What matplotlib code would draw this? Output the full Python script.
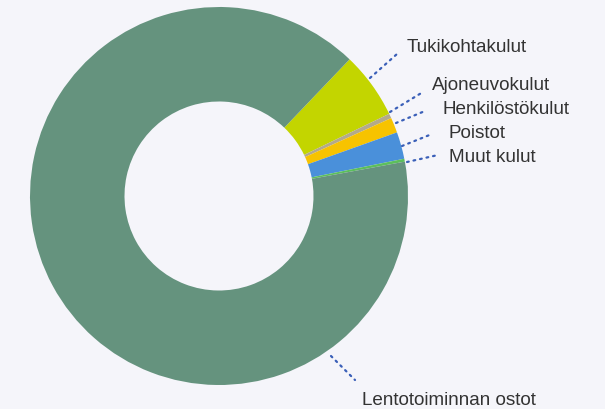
import matplotlib
matplotlib.use("Agg")
import matplotlib.pyplot as plt
import numpy as np

categories = ["Tukikohtakulut", "Ajoneuvokulut", "Henkilöstökulut", "Poistot", "Muut kulut", "Lentotoiminnan ostot"]
values = [5.7, 0.4, 1.3, 2.3, 0.25, 90.05]
colors = ["#c3d500", "#b3aa8c", "#f7c300", "#4a90da", "#5cbf5c", "#65937e"]

BG = "#f5f5fa"
W, H = 605, 410
fig = plt.figure(figsize=(W / 100, H / 100), dpi=100, facecolor=BG)

# donut axes: center (219,197) px, radius 189 px
cx, cy, r = 219, 197, 189
ax = fig.add_axes([(cx - r) / W, (H - cy - r) / H, 2 * r / W, 2 * r / H])
ax.set_facecolor(BG)
ax.pie(values, colors=colors, startangle=46.3, counterclock=False,
       radius=1.0, wedgeprops=dict(width=0.5, linewidth=0))
ax.set_xlim(-1, 1)
ax.set_ylim(-1, 1)
ax.set_axis_off()

# overlay in pixel coordinates for labels & leaders
ov = fig.add_axes([0, 0, 1, 1], facecolor="none")
ov.set_xlim(0, W)
ov.set_ylim(H, 0)
ov.set_axis_off()

labels_layout = [
    # (text_x, text_y_center, line_start, line_end)
    (407, 47, (370, 79), (397, 55)),
    (432, 85, (390, 113), (423, 93)),
    (442, 110, (396, 124), (425, 112)),
    (448, 134, (402, 147), (432, 135)),
    (449, 158, (407, 163), (438, 156)),
    (362, 401, (331, 357), (355, 381)),
]

for name, (tx, ty, p0, p1) in zip(categories, labels_layout):
    ov.plot([p0[0], p1[0]], [p0[1], p1[1]], color="#3a5fb8", lw=1.6,
            linestyle=(0, (0.8, 2.2)), dash_capstyle="round")
    ov.text(tx, ty, name, ha="left", va="center", fontsize=13.6,
            family=["Liberation Sans", "DejaVu Sans"], color="#333333")

fig.savefig("out.png", dpi=100, facecolor=BG)
